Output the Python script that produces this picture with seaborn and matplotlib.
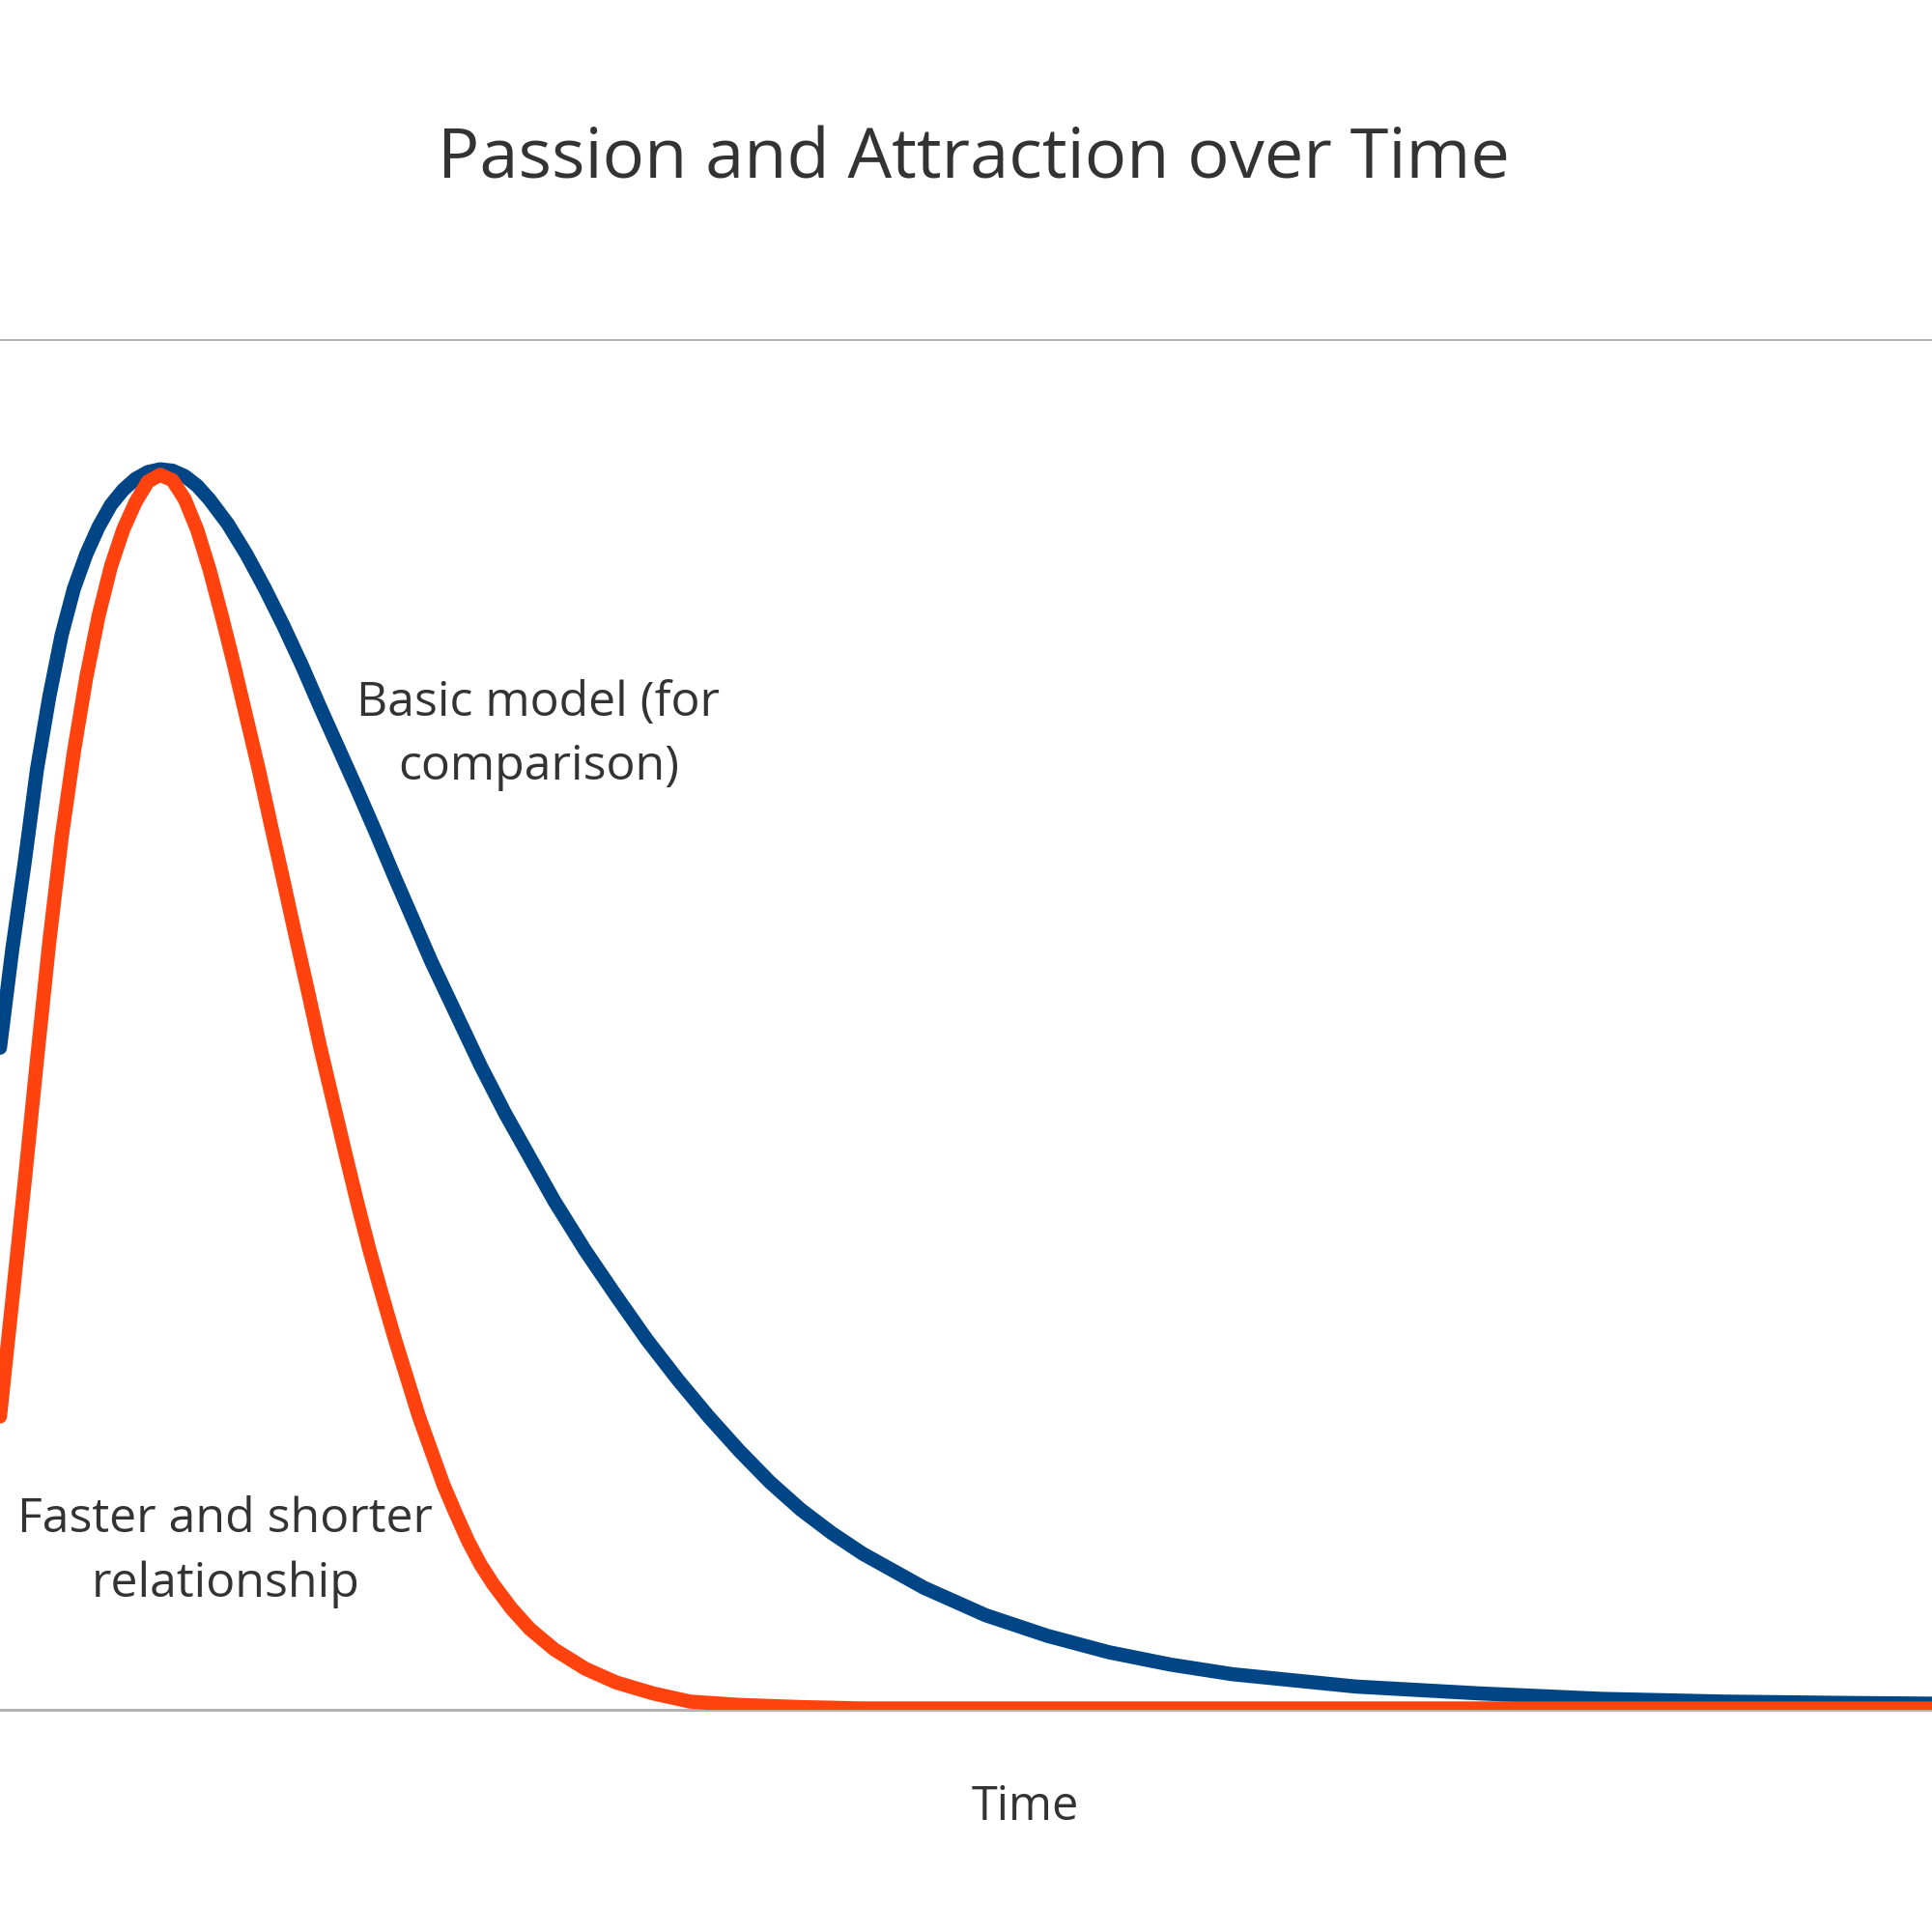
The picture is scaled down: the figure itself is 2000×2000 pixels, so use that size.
import numpy as np
import pandas as pd
import matplotlib
matplotlib.use("Agg")
import matplotlib.pyplot as plt
import seaborn as sns

# ---- data (time in arbitrary units, passion level 0..1) ----
basic_time = [0.0, 0.1, 0.2, 0.3, 0.4, 0.5, 0.6, 0.7, 0.8, 0.9, 1.0, 1.1, 1.2, 1.3,
              1.4, 1.5, 1.6, 1.7, 1.85, 2.0, 2.15, 2.3, 2.45, 2.6, 2.75, 2.9, 3.05,
              3.2, 3.35, 3.5, 3.7, 3.9, 4.1, 4.3, 4.5, 4.75, 5.0, 5.25, 5.5, 5.75,
              6.0, 6.25, 6.5, 6.75, 7.0, 7.5, 8.0, 8.5, 9.0, 9.5, 10.0, 11.0, 12.0,
              13.0, 14.0, 15.0, 15.68]
basic_value = [0.483, 0.555, 0.618, 0.686, 0.739, 0.784, 0.818, 0.843, 0.863, 0.879,
               0.890, 0.898, 0.903, 0.905, 0.904, 0.900, 0.893, 0.883, 0.865, 0.843,
               0.818, 0.791, 0.762, 0.731, 0.701, 0.671, 0.640, 0.608, 0.577, 0.546,
               0.508, 0.470, 0.435, 0.403, 0.371, 0.335, 0.302, 0.270, 0.241, 0.214,
               0.189, 0.166, 0.146, 0.129, 0.114, 0.089, 0.069, 0.054, 0.042, 0.033,
               0.026, 0.017, 0.012, 0.008, 0.006, 0.005, 0.0045]

fast_time = [0.0, 0.1, 0.2, 0.3, 0.4, 0.5, 0.6, 0.7, 0.8, 0.9, 1.0, 1.1, 1.2, 1.3,
             1.4, 1.5, 1.6, 1.7, 1.8, 1.9, 2.0, 2.1, 2.2, 2.3, 2.4, 2.5, 2.6, 2.7,
             2.8, 2.9, 3.0, 3.1, 3.2, 3.3, 3.4, 3.5, 3.6, 3.7, 3.8, 3.9, 4.0, 4.15,
             4.3, 4.5, 4.75, 5.0, 5.3, 5.6, 6.0, 6.5, 7.0, 15.68]
fast_value = [0.214, 0.299, 0.385, 0.474, 0.560, 0.636, 0.699, 0.753, 0.798, 0.834,
              0.861, 0.881, 0.896, 0.901, 0.897, 0.883, 0.861, 0.832, 0.798, 0.762,
              0.724, 0.686, 0.645, 0.605, 0.564, 0.524, 0.483, 0.445, 0.407, 0.370,
              0.335, 0.303, 0.272, 0.243, 0.214, 0.189, 0.164, 0.143, 0.123, 0.106,
              0.092, 0.074, 0.059, 0.044, 0.030, 0.020, 0.012, 0.006, 0.0036, 0.002,
              0.001, 0.001]

series_names = ["Basic model (for comparison)", "Faster and shorter relationship"]
series_colors = ["#004586", "#ff420e"]

df = pd.concat([
    pd.DataFrame({"Time": basic_time, "Passion": basic_value, "series": series_names[0]}),
    pd.DataFrame({"Time": fast_time, "Passion": fast_value, "series": series_names[1]}),
], ignore_index=True)

sns.set_theme(style="white")
plt.rcParams["font.family"] = ["Open Sans", "DejaVu Sans"]

fig = plt.figure(figsize=(20, 20), dpi=100)
ax = fig.add_axes([0.0, 0.115, 1.0, 0.7095])

sns.lineplot(data=df, x="Time", y="Passion", hue="series",
             palette=dict(zip(series_names, series_colors)),
             estimator=None, sort=True, linewidth=10.5, legend=False, ax=ax,
             solid_joinstyle="round", solid_capstyle="round")

ax.set_xlim(0, 15.68)
ax.set_ylim(0, 1.0)
ax.set_yticks([0, 1])
ax.set_xticks([])
ax.tick_params(left=False, bottom=False, labelleft=False, labelbottom=False)
ax.yaxis.grid(True, color="#b3b3b3", linewidth=2.2)
ax.set_axisbelow(True)
for side in ["left", "right", "top"]:
    ax.spines[side].set_visible(False)
ax.spines["bottom"].set_color("#b3b3b3")
ax.spines["bottom"].set_linewidth(2.2)
ax.spines["bottom"].set_zorder(0)

ax.set_ylabel("")
ax.set_xlabel("Time", fontsize=35, color="#333333")
ax.xaxis.set_label_coords(0.5306, -0.054)

text_color = "#333333"
ax.text(4.37, 0.711, "Basic model (for\ncomparison)", ha="center", va="center",
        fontsize=36, color=text_color, linespacing=1.45)
ax.text(1.83, 0.115, "Faster and shorter\nrelationship", ha="center", va="center",
        fontsize=36, color=text_color, linespacing=1.45)

fig.text(0.504, 0.917, "Passion and Attraction over Time", ha="center", va="center",
         fontsize=52, color=text_color)

fig.savefig("out.png", dpi=100, facecolor="white")
